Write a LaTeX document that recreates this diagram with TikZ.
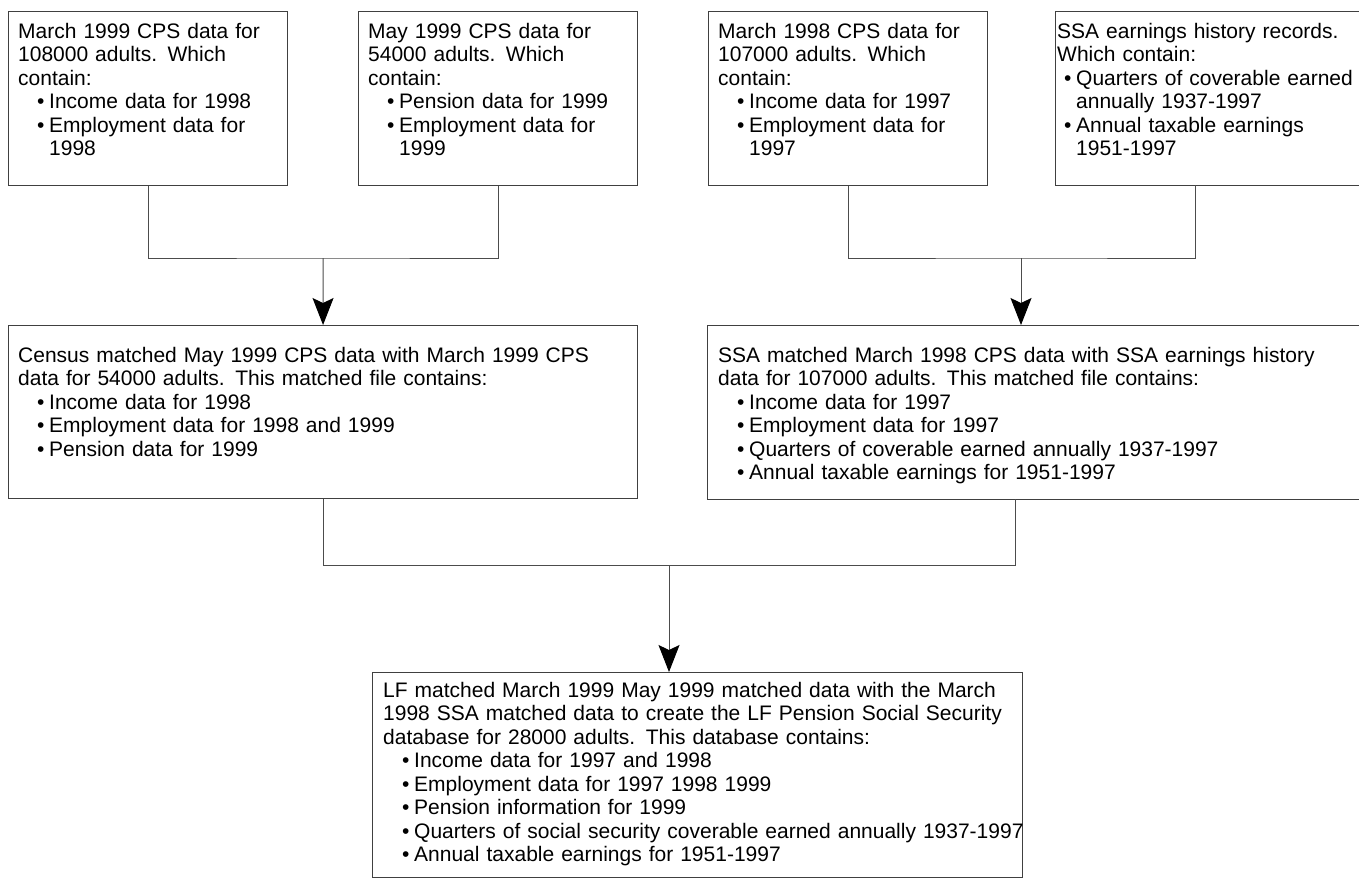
\documentclass[tikz,border=0pt]{standalone}
\usepackage{fontspec}
\setmainfont{Liberation Sans}
\usetikzlibrary{arrows.meta}
\newcommand\bitem[1]{\par\hangindent=31pt\hangafter=1\hspace*{19pt}\makebox[12pt][l]{\textbullet}#1}
\newcommand\sitem[1]{\par\hangindent=19pt\hangafter=1\hspace*{7pt}\makebox[12pt][l]{\textbullet}#1}
\tikzset{
  box/.style={draw=black!75, line width=1.1pt, rectangle, anchor=north west, inner sep=0pt},
  txt/.style={anchor=north west, inner sep=0pt, text width=700pt,
    font=\fontsize{21}{23.5}\selectfont},
  link/.style={draw=black!70, line width=1pt},
  arr/.style={link, -{Stealth[length=27pt,width=21pt,inset=5pt,color=black]}}
}
\begin{document}
\begin{tikzpicture}[x=1pt,y=1pt]
\useasboundingbox (0,0) rectangle (1359,-879);
% top row boxes
\node[box, minimum width=279pt, minimum height=174pt] (b1) at (8,-11) {};
\node[box, minimum width=279pt, minimum height=174pt] (b2) at (358,-11) {};
\node[box, minimum width=279pt, minimum height=174pt] (b3) at (708,-11) {};
\node[box, minimum width=360pt, minimum height=174pt] (b4) at (1055,-11) {};
% middle row boxes
\node[box, minimum width=629pt, minimum height=173pt] (m1) at (8,-325) {};
\node[box, minimum width=700pt, minimum height=174pt] (m2) at (707,-325) {};
% final box
\node[box, minimum width=650pt, minimum height=205pt] (f) at (372,-672) {};
% texts
\node[txt] (t1) at (18,-21.5) {\raggedright\parindent=0pt\strut March 1999 CPS data for\newline 108000 adults. Which\newline contain:
  \bitem{Income data for 1998}
  \bitem{Employment data for\newline 1998}\par};
\node[txt] (t2) at (368,-21.5) {\raggedright\parindent=0pt\strut May 1999 CPS data for\newline 54000 adults. Which\newline contain:
  \bitem{Pension data for 1999}
  \bitem{Employment data for\newline 1999}\par};
\node[txt] (t3) at (718,-21.5) {\raggedright\parindent=0pt\strut March 1998 CPS data for\newline 107000 adults. Which\newline contain:
  \bitem{Income data for 1997}
  \bitem{Employment data for\newline 1997}\par};
\node[txt] (t4) at (1057,-21.5) {\raggedright\parindent=0pt\strut SSA earnings history records.\newline Which contain:
  \sitem{Quarters of coverable earned\newline annually 1937-1997}
  \sitem{Annual taxable earnings\newline 1951-1997}\par};
\node[txt] (t5) at (18,-345.5) {\raggedright\parindent=0pt\strut Census matched May 1999 CPS data with March 1999 CPS\newline data for 54000 adults. This matched file contains:
  \bitem{Income data for 1998}
  \bitem{Employment data for 1998 and 1999}
  \bitem{Pension data for 1999}\par};
\node[txt] (t6) at (718,-345.5) {\raggedright\parindent=0pt\strut SSA matched March 1998 CPS data with SSA earnings history\newline data for 107000 adults. This matched file contains:
  \bitem{Income data for 1997}
  \bitem{Employment data for 1997}
  \bitem{Quarters of coverable earned annually 1937-1997}
  \bitem{Annual taxable earnings for 1951-1997}\par};
\node[txt] (t7) at (383,-680.5) {\raggedright\parindent=0pt\strut LF matched March 1999 May 1999 matched data with the March\newline 1998 SSA matched data to create the LF Pension Social Security\newline database for 28000 adults. This database contains:
  \bitem{Income data for 1997 and 1998}
  \bitem{Employment data for 1997 1998 1999}
  \bitem{Pension information for 1999}
  \bitem{Quarters of social security coverable earned annually 1937-1997}
  \bitem{Annual taxable earnings for 1951-1997}\par};
% junctions
\coordinate (j1) at (323,-258);
\coordinate (j2) at (1021,-258);
\coordinate (c4) at (1195,-185);
\coordinate (j3) at (669,-565);
\coordinate (c6) at (1015,-499);
% connectors
\draw[link] (b1.south) |- (j1) -| (b2.south);
\draw[arr] (j1) -- (m1.north);
\draw[link] (b3.south) |- (j2) -| (c4);
\draw[arr] (j2) -- (j2 |- m2.north);
\draw[link] (m1.south) |- (j3) -| (c6);
\draw[arr] (j3) -- (j3 |- f.north);
\end{tikzpicture}
\end{document}
